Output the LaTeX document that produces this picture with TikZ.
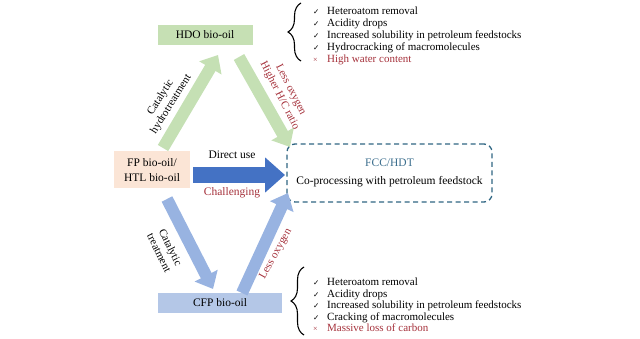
\documentclass[tikz,border=0pt]{standalone}
\usepackage{fontspec}
\setmainfont{Liberation Serif}
\newfontfamily\symfont{DejaVu Sans}
\usetikzlibrary{arrows.meta,decorations.pathreplacing}
\definecolor{hdogreen}{HTML}{C6E0B4}
\definecolor{arrgreen}{HTML}{C5E0B4}
\definecolor{fppeach}{HTML}{FBE5D6}
\definecolor{cfpblue}{HTML}{B4C7E7}
\definecolor{arrblue}{HTML}{98B3E1}
\definecolor{darkblue}{HTML}{4472C4}
\definecolor{teal}{HTML}{2F6683}
\definecolor{fcctext}{HTML}{3D6F8E}
\definecolor{darkred}{HTML}{A5313B}
\newcommand{\ck}{\makebox[14pt][l]{\symfont\fontsize{7.5}{8}\selectfont ✓}}
\newcommand{\xx}{\makebox[14pt][l]{\color{darkred}\fontsize{8}{8}\selectfont ×}}
\tikzset{
  oilbox/.style={minimum height=20pt, inner sep=0pt, font=\fontsize{11.5}{13}\selectfont},
  fatarrow/.style={line width=12pt, -{Triangle[length=15pt,width=25pt]}},
  lbl/.style={font=\fontsize{11}{12.5}\selectfont, align=center, inner sep=0pt},
  redlbl/.style={lbl, text=darkred},
  bracestyle/.style={decorate, decoration={brace, amplitude=13pt}, line width=1.1pt},
  listnode/.style={anchor=north west, inner sep=0pt, align=left}
}
\begin{document}
\begin{tikzpicture}[x=1pt,y=-1pt]
\useasboundingbox (0,0) rectangle (640,339);
% boxes
\node[oilbox, fill=hdogreen, minimum width=95pt] (hdo) at (205,35) {HDO bio-oil};
\node[oilbox, fill=fppeach, minimum width=76pt, minimum height=37pt, align=center,
      font=\fontsize{11.5}{15}\selectfont] (fp) at (152,170) {FP bio-oil/\\HTL bio-oil};
\node[oilbox, fill=cfpblue, minimum width=124pt] (cfp) at (220,303) {CFP bio-oil};
\node[draw=teal, dashed, dash pattern=on 5pt off 3.5pt, line width=1.3pt, rounded corners=8pt,
      minimum width=205pt, minimum height=58pt, align=center,
      font=\fontsize{11.5}{18}\selectfont] (fcc) at (389.5,173)
      {{\color{fcctext}FCC/HDT}\\Co-processing with petroleum feedstock};
% arrow end points
\coordinate (g1s) at (163,148); \coordinate (g1e) at (218,55);
\coordinate (g2s) at (239,57);  \coordinate (g2e) at (290,147);
\coordinate (ds) at (193,175);  \coordinate (de) at (285,175);
\coordinate (b1s) at (167,199); \coordinate (b1e) at (213,289);
\coordinate (b2s) at (242,293); \coordinate (b2e) at (288,193);
% arrows
\draw[fatarrow, draw=arrgreen, color=arrgreen] (g1s) -- (g1e);
\draw[fatarrow, draw=arrgreen, color=arrgreen] (g2s) -- (g2e);
\draw[line width=16pt, draw=darkblue, color=darkblue, -{Triangle[length=20pt,width=34pt]}] (ds) -- (de);
\draw[fatarrow, draw=arrblue, color=arrblue] (b1s) -- (b1e);
\draw[fatarrow, draw=arrblue, color=arrblue] (b2s) -- (b2e);
% labels
\node[lbl, rotate=58] (l1) at (166,101) {Catalytic\\hydrotreatment};
\node[redlbl, rotate=-63] (l2) at (285,93) {Less oxygen\\Higher H/C ratio};
\node[lbl, font=\fontsize{11.5}{13}\selectfont] (l3) at (232,155) {Direct use};
\node[redlbl, font=\fontsize{11.5}{13}\selectfont] (l4) at (232,193) {Challenging};
\node[lbl, rotate=-64] (l5) at (165,250) {Catalytic\\treatment};
\node[redlbl, rotate=61] (l6) at (276,254) {Less oxygen};
% braces
\coordinate (tb1) at (301,61); \coordinate (tb2) at (301,3);
\draw[bracestyle] (tb1) -- (tb2);
\coordinate (bb1) at (304,335); \coordinate (bb2) at (304,267);
\draw[bracestyle] (bb1) -- (bb2);
% lists
\node[listnode, font=\fontsize{11}{11.9}\selectfont] (list1) at (313,7)
{\ck Heteroatom removal\\
\ck Acidity drops\\
\ck Increased solubility in petroleum feedstocks\\
\ck Hydrocracking of macromolecules\\
\xx {\color{darkred}High water content}};
\node[listnode, font=\fontsize{11}{11.4}\selectfont] (list2) at (313,278)
{\ck Heteroatom removal\\
\ck Acidity drops\\
\ck Increased solubility in petroleum feedstocks\\
\ck Cracking of macromolecules\\
\xx {\color{darkred}Massive loss of carbon}};
\end{tikzpicture}
\end{document}
